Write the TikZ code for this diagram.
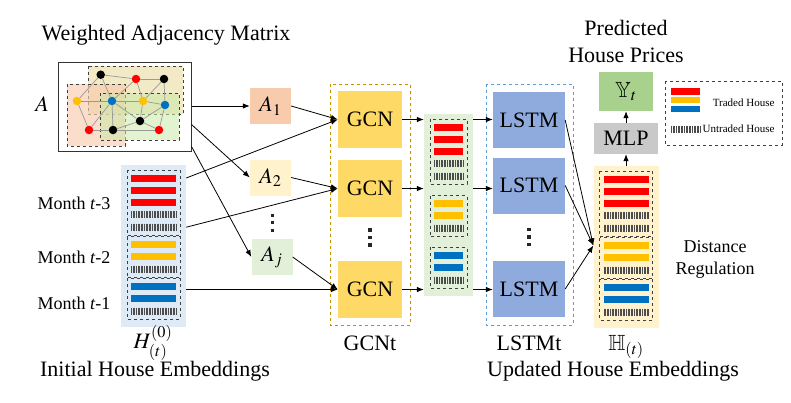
\documentclass[tikz,border=0pt]{standalone}
\usepackage{amssymb}
\usepackage{mathptmx}
\usepackage{fontspec}
\setmainfont{Liberation Serif}
\usetikzlibrary{arrows.meta}

\definecolor{hred}{HTML}{FF0000}
\definecolor{hyellow}{HTML}{FFC000}
\definecolor{hblue}{HTML}{0070C0}
\definecolor{gcnfill}{HTML}{FFD966}
\definecolor{lstmfill}{HTML}{8FAADC}
\definecolor{mlpfill}{HTML}{C9C9C9}
\definecolor{yfill}{HTML}{A9D18E}
\definecolor{salmon}{HTML}{F8CBAD}
\definecolor{cream}{HTML}{FFF2CC}
\definecolor{mint}{HTML}{E2F0D9}
\definecolor{sky}{HTML}{DEEBF7}
\definecolor{khaki}{HTML}{EADBA0}
\definecolor{gcnline}{HTML}{BF9000}
\definecolor{lstmline}{HTML}{5B9BD5}

\tikzset{
  blk/.style={minimum width=64, minimum height=57, inner sep=0pt},
  abox/.style={minimum width=41, minimum height=36, inner sep=0pt},
  conn/.style={-{Latex[length=7pt,width=5.5pt]}, line width=0.8pt},
  grp/.style={dashed, line width=0.9pt, draw=black!75},
  stripe/.style={line width=0.75pt, draw=black!70},
  dot/.style={circle, inner sep=0pt, minimum size=8.5},
  edge/.style={draw=black!40, line width=0.7pt}
}

% barcode of untraded houses: #1 half width, #2 y
\newcommand{\barcode}[2]{%
  \pgfmathtruncatemacro\nst{2*#1/1.6}
  \foreach \k in {0,...,\nst}
    \draw[stripe] (-#1+\k*1.6+0.5,#2-3.5) -- ++(0,7);}

% three stacked dots: #1 x, #2 y of top dot, #3 size
\newcommand{\moredots}[3]{%
  \foreach \d in {0,1,2}
    \fill[black!85] (#1-#3/2,#2+\d*7.5-#3/2) rectangle ++(#3,#3);}

% column of house embeddings: #1 name, #2 x, #3 y of first row, #4 half bar width, #5 gap, #6 fill
\newcommand{\houses}[6]{%
  \begin{scope}[shift={(#2,#3)}]
    \pgfmathsetmacro\hb{10*12.3+2*#5+29}
    \node[fill=#6, minimum width=2*#4+20, minimum height=\hb, anchor=north, inner sep=0pt] (#1) at (0,-13) {};
    \coordinate (#1-r1) at (0,0);
    \coordinate (#1-r5) at (0,4*12.3);
    \coordinate (#1-r6) at (0,5*12.3+#5);
    \foreach \r in {0,1,2}
      \fill[hred] (-#4,\r*12.3-3.5) rectangle (#4,\r*12.3+3.5);
    \foreach \r in {3,4}
      \barcode{#4}{\r*12.3}
    \foreach \r in {5,6}
      \fill[hyellow] (-#4,\r*12.3+#5-3.5) rectangle (#4,\r*12.3+#5+3.5);
    \barcode{#4}{7*12.3+#5}
    \foreach \r in {8,9}
      \fill[hblue] (-#4,\r*12.3+2*#5-3.5) rectangle (#4,\r*12.3+2*#5+3.5);
    \barcode{#4}{10*12.3+2*#5}
    \draw[grp] (-#4-4,-8) rectangle (#4+4,4*12.3+8);
    \draw[grp] (-#4-4,5*12.3+#5-8) rectangle (#4+4,7*12.3+#5+8);
    \draw[grp] (-#4-4,8*12.3+2*#5-8) rectangle (#4+4,10*12.3+2*#5+8);
  \end{scope}}

\begin{document}
\begin{tikzpicture}[x=1pt,y=-1pt,font=\fontsize{22}{27}\selectfont]
  \useasboundingbox (0,0) rectangle (791,402);

  % weighted adjacency matrix
  \node (title) at (166,35) {Weighted Adjacency Matrix};
  \node (alabel) at (42,104) {$A$};
  \node[draw=black!80, line width=1pt, minimum width=133, minimum height=89, inner sep=0pt] (adj) at (124.5,106.5) {};
  \filldraw[grp, fill=khaki, fill opacity=.6] (88,66) rectangle (183,114);
  \filldraw[grp, fill=salmon, fill opacity=.65] (67,84) rectangle (125,146);
  \filldraw[grp, fill=mint!80!green!60!khaki, fill opacity=.55] (100,93) rectangle (179,140);
  \foreach \n/\p/\c in {g1/{(100.7,74.7)}/black, g2/{(136,79)}/hred, g3/{(164,79)}/black,
      g4/{(77,101)}/hyellow, g5/{(112,101)}/hblue, g6/{(143,101)}/hyellow, g7/{(165,105)}/hblue,
      g8/{(140,121)}/black, g9/{(89,130)}/hred, g10/{(113,130)}/black, g11/{(159,130)}/hred}
    \node[dot, fill=\c] (\n) at \p {};
  \foreach \a/\b in {g1/g4, g1/g5, g1/g2, g2/g3, g2/g5, g2/g6, g3/g6, g3/g7, g4/g5, g4/g9,
      g5/g6, g6/g7, g5/g8, g5/g10, g5/g9, g6/g8, g7/g8, g7/g11, g8/g11, g8/g10, g9/g10, g10/g11}
    \draw[edge] (\a) -- (\b);

  % adjacency slices
  \node[abox, fill=salmon] (a1) at (270.5,106) {$A_1$};
  \node[abox, fill=cream] (a2) at (270.5,177.5) {$A_2$};
  \moredots{272}{215}{3}
  \node[abox, fill=mint] (aj) at (272,257) {$A_j$};

  % initial embeddings
  \houses{hin}{153.5}{178}{22.5}{5}{sky}
  \node[anchor=west, font=\fontsize{18}{22}\selectfont] (m3) at (34,203) {Month \textit{t}-3};
  \node[anchor=west, font=\fontsize{18}{22}\selectfont] (m2) at (34,257) {Month \textit{t}-2};
  \node[anchor=west, font=\fontsize{18}{22}\selectfont] (m1) at (34,303) {Month \textit{t}-1};
  \node (h0) at (153,343) {$H_{(t)}^{(0)}$};
  \node (initial) at (155,371) {Initial House Embeddings};

  % GCN block
  \draw[dashed, gcnline, line width=0.9pt] (330,84) rectangle (410,325);
  \node[blk, fill=gcnfill] (gcn1) at (370,119.5) {GCN};
  \node[blk, fill=gcnfill] (gcn2) at (370,188.5) {GCN};
  \moredots{370}{230}{3.6}
  \node[blk, fill=gcnfill] (gcn3) at (370,289.5) {GCN};
  \node (gcnt) at (370,343) {GCNt};

  % GCN outputs
  \houses{hmid}{448.5}{127}{14.5}{15}{mint}

  % LSTM block
  \draw[dashed, lstmline, line width=0.9pt] (486,84) rectangle (573,325);
  \node[blk, minimum width=72, minimum height=56, fill=lstmfill] (lstm1) at (529,120) {LSTM};
  \node[blk, minimum width=72, minimum height=56, fill=lstmfill] (lstm2) at (529,185.5) {LSTM};
  \moredots{529}{229.5}{3.6}
  \node[blk, minimum width=72, minimum height=56, fill=lstmfill] (lstm3) at (529,289) {LSTM};
  \node (lstmt) at (529,343) {LSTMt};

  % updated embeddings and prediction
  \houses{hout}{626}{179}{22.5}{5}{cream}
  \node (hbb) at (626,347) {$\mathbb{H}_{(t)}$};
  \node (updated) at (613,371) {Updated House Embeddings};
  \node[fill=mlpfill, minimum width=64, minimum height=31, inner sep=0pt] (mlp) at (626,138.5) {MLP};
  \node[fill=yfill, minimum width=54, minimum height=39, inner sep=0pt] (yt) at (626,91.5) {$\mathbb{Y}_t$};
  \node[align=center] (pred) at (626,41) {Predicted\\House Prices};
  \node[align=center, font=\fontsize{18}{22}\selectfont] (dist) at (715,259) {Distance\\Regulation};

  % legend
  \draw[grp] (665,81) rectangle (782,145);
  \fill[hred] (671,88.3) rectangle (700,94.5);
  \fill[hyellow] (671,97.2) rectangle (700,103.3);
  \fill[hblue] (671,106.2) rectangle (700,112.4);
  \begin{scope}[shift={(685.5,129)}]
    \barcode{14.5}{0}
  \end{scope}
  \node[anchor=east, font=\fontsize{11}{13}\selectfont] (traded) at (778,103) {Traded House};
  \node[anchor=east, font=\fontsize{11}{13}\selectfont] (untraded) at (778,129) {Untraded House};

  % connectors
  \draw[conn] (a1 -| adj.east) -- (a1.west);
  \draw[conn] ([yshift=-18pt]adj.east) -- (a2.west);
  \draw[conn] ([yshift=-40pt]adj.east) -- (aj.west);
  \draw[conn] (a1.east) -- (gcn1.west);
  \draw[conn] (a2.east) -- (gcn2.west);
  \draw[conn] (aj.east) -- (gcn3.west);
  \draw[conn] (hin-r1 -| hin.east) -- (gcn1.west);
  \draw[conn] (hin-r5 -| hin.east) -- (gcn2.west);
  \draw[conn] (gcn3 -| hin.east) -- (gcn3.west);
  \foreach \k in {1,2,3} {
    \draw[conn] (gcn\k.east) -- (gcn\k -| hmid.west);
    \draw[conn] (gcn\k -| hmid.east) -- (gcn\k -| lstm\k.west);
    \draw[conn] (lstm\k.east) -- (hout-r6 -| hout.west);
  }
  \draw[conn] (hout.north) -- (mlp.south);
  \draw[conn] (mlp.north) -- (yt.south);
\end{tikzpicture}
\end{document}
